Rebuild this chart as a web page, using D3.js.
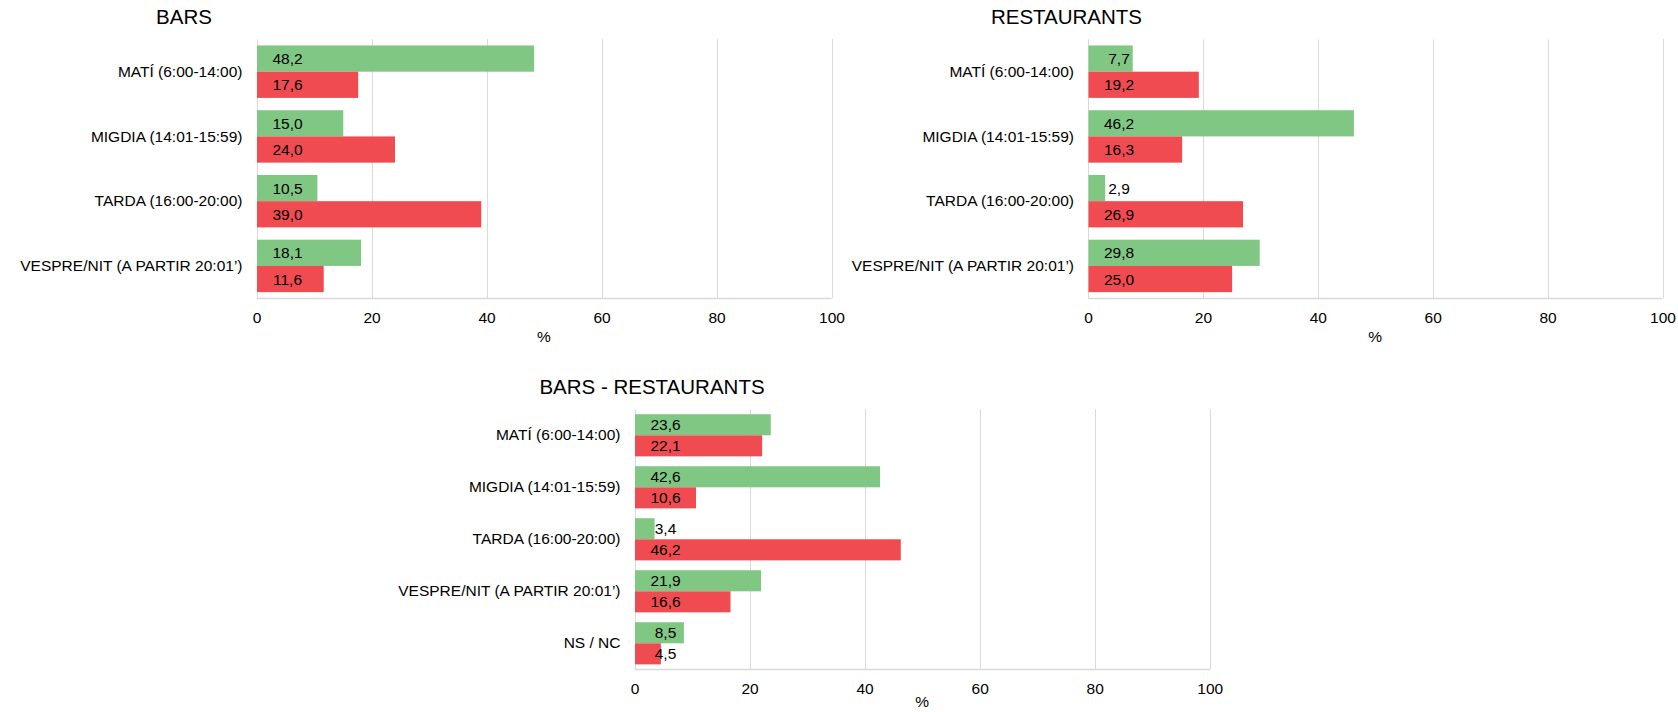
<!DOCTYPE html>
<html>
<head>
<meta charset="utf-8">
<script src="https://cdn.jsdelivr.net/npm/d3@7"></script>
<style>
  html, body { margin: 0; padding: 0; background: #fff; }
  svg { display: block; font-family: "Liberation Sans", Arial, sans-serif; }
</style>
</head>
<body>
<svg id="chart" width="1678" height="712"></svg>
<script>
// ---- data ----
const categories4 = ["MATÍ (6:00-14:00)", "MIGDIA (14:01-15:59)", "TARDA (16:00-20:00)", "VESPRE/NIT (A PARTIR 20:01’)"];
const categories5 = ["MATÍ (6:00-14:00)", "MIGDIA (14:01-15:59)", "TARDA (16:00-20:00)", "VESPRE/NIT (A PARTIR 20:01’)", "NS / NC"];
const series = ["green", "red"];
const barsGreen = [48.2, 15.0, 10.5, 18.1];
const barsRed = [17.6, 24.0, 39.0, 11.6];
const restGreen = [7.7, 46.2, 2.9, 29.8];
const restRed = [19.2, 16.3, 26.9, 25.0];
const totalGreen = [23.6, 42.6, 3.4, 21.9, 8.5];
const totalRed = [22.1, 10.6, 46.2, 16.6, 4.5];
const tickValues = [0, 20, 40, 60, 80, 100];
const titles = ["BARS", "RESTAURANTS", "BARS - RESTAURANTS"];
const axisTitle = "%";

// ---- styling / layout ----
const colors = { green: "#81C784", red: "#F04B51" };
const gridColor = "#D9D9D9";
const fmt = v => d3.format(".1f")(v).replace(".", ",");

const panels = [
  { title: titles[0], cats: categories4, green: barsGreen, red: barsRed,
    x0: 256.5, x1: 831.5, y0: 39.3, y1: 298.3, titleX: 184, titleY: 19, pctY: 337.5 },
  { title: titles[1], cats: categories4, green: restGreen, red: restRed,
    x0: 1088, x1: 1662.5, y0: 39.3, y1: 298.3, titleX: 1066.5, titleY: 19, pctY: 337.5 },
  { title: titles[2], cats: categories5, green: totalGreen, red: totalRed,
    x0: 634.5, x1: 1209.8, y0: 409.3, y1: 669.3, titleX: 652, titleY: 389, pctY: 703 }
];

const svg = d3.select("#chart");

panels.forEach(p => {
  const g = svg.append("g");
  const x = d3.scaleLinear().domain([0, 100]).range([p.x0, p.x1]);
  const y = d3.scaleBand().domain(p.cats).range([p.y0, p.y1])
    .paddingInner(0.19).paddingOuter(0.095);
  const ys = d3.scaleBand().domain(series).range([0, y.bandwidth()]);

  // gridlines
  g.selectAll("line.grid").data(tickValues).enter().append("line")
    .attr("x1", d => Math.round(x(d)) + 0.5).attr("x2", d => Math.round(x(d)) + 0.5)
    .attr("y1", p.y0).attr("y2", p.y1)
    .attr("stroke", gridColor).attr("stroke-width", 1);

  // baseline
  g.append("line")
    .attr("x1", p.x0).attr("x2", p.x1)
    .attr("y1", Math.round(p.y1) + 0.5).attr("y2", Math.round(p.y1) + 0.5)
    .attr("stroke", gridColor).attr("stroke-width", 1.5);

  // tick labels via axis
  const axis = d3.axisBottom(x).tickValues(tickValues).tickSize(0).tickPadding(0)
    .tickFormat(d3.format("d"));
  const ax = g.append("g").attr("transform", `translate(0,${p.y1 + 14})`).call(axis);
  ax.select(".domain").remove();
  ax.selectAll("text").attr("font-size", "15.5px").attr("fill", "#000")
    .attr("font-family", "Liberation Sans, Arial, sans-serif");

  // axis title
  g.append("text").attr("x", (p.x0 + p.x1) / 2).attr("y", p.pctY)
    .attr("text-anchor", "middle").attr("dominant-baseline", "middle")
    .attr("font-size", "15.5px").attr("fill", "#000").text(axisTitle);

  // title
  g.append("text").attr("x", p.titleX).attr("y", p.titleY)
    .attr("text-anchor", "middle").attr("dominant-baseline", "middle")
    .attr("font-size", "20.5px").attr("fill", "#000").text(p.title);

  // category labels
  g.selectAll("text.cat").data(p.cats).enter().append("text")
    .attr("x", p.x0 - 14).attr("y", d => y(d) + y.bandwidth() / 2 + 1)
    .attr("text-anchor", "end").attr("dominant-baseline", "middle")
    .attr("font-size", "15.5px").attr("fill", "#000").text(d => d);

  // bars
  const rows = p.cats.map((c, i) => [
    { cat: c, s: "green", v: p.green[i] },
    { cat: c, s: "red", v: p.red[i] }
  ]).flat();

  g.selectAll("rect.bar").data(rows).enter().append("rect")
    .attr("x", x(0) + 0.5)
    .attr("y", d => y(d.cat) + ys(d.s))
    .attr("width", d => x(d.v) - x(0))
    .attr("height", ys.bandwidth())
    .attr("fill", d => colors[d.s]);

  g.selectAll("text.val").data(rows).enter().append("text")
    .attr("x", x(0) + 31)
    .attr("y", d => y(d.cat) + ys(d.s) + ys.bandwidth() / 2 + 1.5)
    .attr("text-anchor", "middle").attr("dominant-baseline", "middle")
    .attr("font-size", "15.5px").attr("fill", "#000").text(d => fmt(d.v));
});
</script>
</body>
</html>
